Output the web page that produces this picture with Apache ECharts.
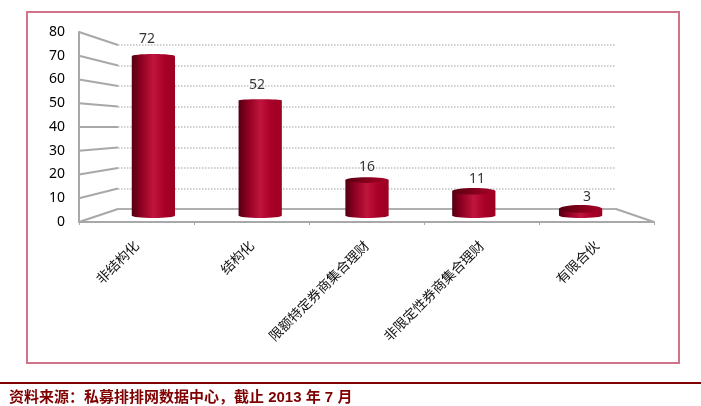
<!DOCTYPE html>
<html><head><meta charset="utf-8">
<style>html,body{margin:0;padding:0;background:#fff}#c{width:701px;height:406px}</style>
<script src="https://cdn.jsdelivr.net/npm/echarts@6/dist/echarts.min.js"></script>
</head><body><div id="c"></div>
<script>
const categories = ['非结构化','结构化','限额特定券商集合理财','非限定性券商集合理财','有限合伙'];
const values = [72,52,16,11,3];
const valueTicks = [0,10,20,30,40,50,60,70,80];
const sourceText = '资料来源：私募排排网数据中心，截止 2013 年 7 月';

const chart = echarts.init(document.getElementById('c'), null, {renderer:'canvas'});
const hAxis = {type:'category', data:categories, show:false};
const vAxis = {type:'value', min:0, max:80, interval:10, show:false};
const cjk = '"Noto Sans CJK SC"';
const wallColor = '#a8a8a8';
const bodyFill = {type:'linear',x:0,y:0,x2:1,y2:0,colorStops:[
  {offset:0,color:'#520010'},{offset:0.22,color:'#8f0022'},{offset:0.5,color:'#c0153c'},
  {offset:0.75,color:'#a80028'},{offset:1,color:'#9c0020'}]};
const capFill = {type:'linear',x:0,y:0,x2:1,y2:0,colorStops:[
  {offset:0,color:'#560010'},{offset:0.6,color:'#8c001e'},{offset:1,color:'#a80028'}]};
const eyeLevel = 110;

function renderWall(params, api){
  const side = api.value(0), v = api.value(1), cs = params.coordSys;
  const fy = api.coord([0, v])[1];
  const back = chart.convertToPixel({gridIndex:1}, [side, v]);
  return {type:'line', shape:{x1:cs.x+cs.width*side, y1:fy, x2:back[0], y2:back[1]},
    style:{stroke:wallColor, lineWidth:2, fill:null}};
}
function renderCylinder(params, api){
  const i = api.value(0), v = api.value(1);
  const top = api.coord([i, v]), base = api.coord([i, 0]);
  const w = api.size([1,0])[0]*0.405, cx = top[0], x = cx-w/2;
  const ryTop = Math.max(1.2, 0.04*Math.abs(top[1]-eyeLevel));
  const ryBase = 2.5;
  const seenFromAbove = top[1] > eyeLevel;
  const kids = [
    {type:'ellipse', shape:{cx:cx, cy:base[1], rx:w/2, ry:ryBase}, style:{fill:bodyFill}},
    {type:'rect', shape:{x:x, y:top[1], width:w, height:base[1]-top[1]}, style:{fill:bodyFill}},
    {type:'ellipse', shape:{cx:cx, cy:top[1], rx:w/2, ry:ryTop}, style:{fill: seenFromAbove ? capFill : bodyFill}}
  ];
  return {type:'group', children:kids};
}

chart.setOption({
  animation:false,
  backgroundColor:'#fff',
  grid:[
    {left:79, top:32, width:575, height:190},
    {left:118, top:45, width:498, height:164},
    {left:100, top:38.5, width:534, height:177},
    {left:92, top:21, width:550, height:183}
  ],
  xAxis:[
    {gridIndex:0, type:'category', data:categories,
     axisLine:{lineStyle:{color:wallColor,width:2}},
     axisTick:{show:true,alignWithLabel:false,length:3,lineStyle:{color:wallColor}},
     axisLabel:{rotate:45, interval:0, margin:21, fontFamily:cjk, fontSize:13.5, color:'#111'}},
    {gridIndex:1, type:'value', min:0, max:1, splitLine:{show:false}, axisTick:{show:false}, axisLabel:{show:false},
     axisLine:{show:true,onZero:false,lineStyle:{color:'#b0b0b0',width:2}}},
    Object.assign({gridIndex:2}, hAxis),
    Object.assign({gridIndex:3}, hAxis)
  ],
  yAxis:[
    {gridIndex:0, type:'value', min:0, max:80, interval:10, splitLine:{show:false},
     axisLine:{show:true,lineStyle:{color:wallColor,width:2}},
     axisTick:{show:false},
     axisLabel:{margin:14, fontFamily:'"Noto Sans"', fontSize:14, color:'#000'}},
    {gridIndex:1, type:'value', min:0, max:80, interval:10, axisLine:{show:false}, axisTick:{show:false}, axisLabel:{show:false},
     splitLine:{show:true,lineStyle:{color:'#c0c0c0',type:'dotted',width:1.5}}},
    Object.assign({gridIndex:2}, vAxis),
    Object.assign({gridIndex:3}, vAxis)
  ],
  series:[
    {type:'custom', name:'walls', xAxisIndex:0, yAxisIndex:0, z:2, silent:true, clip:false,
     data:valueTicks.map(v=>[0,v]).concat([[1,0]]), encode:{x:-1,y:1}, renderItem:renderWall},
    {type:'custom', name:'cylinders', xAxisIndex:2, yAxisIndex:2, z:3, silent:true, clip:false,
     data:values.map((v,i)=>[i,v]), encode:{x:0,y:1}, renderItem:renderCylinder},
    {type:'scatter', name:'labels', xAxisIndex:3, yAxisIndex:3, z:4, silent:true, symbolSize:1,
     itemStyle:{color:'rgba(0,0,0,0)'}, data:values.map((v,i)=>[i,v]),
     label:{show:true, position:'inside', formatter:p=>String(p.value[1]),
       fontFamily:'"Noto Sans"', fontSize:14, color:'#000'}}
  ],
  graphic:[
    {type:'rect', z:1, silent:true, shape:{x:27,y:12,width:652,height:351},
     style:{fill:'none',stroke:'#cf7488',lineWidth:2}},
    {type:'line', silent:true, shape:{x1:0,y1:383,x2:701,y2:383}, style:{stroke:'#7f0000',lineWidth:2}},
    {type:'text', silent:true, x:9, y:390, style:{text:sourceText, fill:'#7f0000',
      font:'bold 15px "Liberation Sans","Noto Sans CJK SC"'}}
  ]
});
</script></body></html>
